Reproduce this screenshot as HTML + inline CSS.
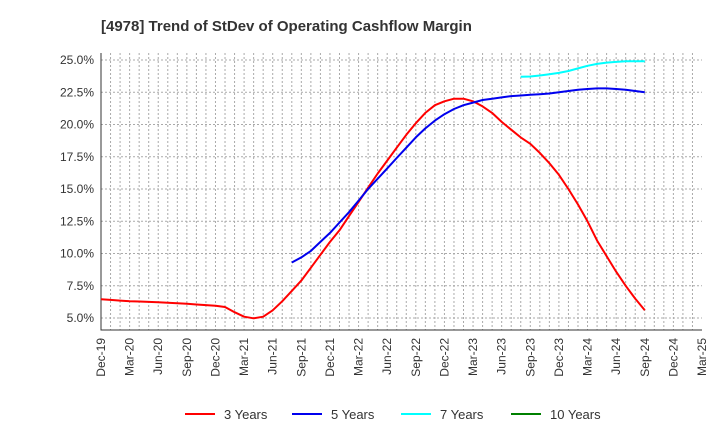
<!DOCTYPE html>
<html><head><meta charset="utf-8"><style>
body{margin:0;background:#fff;font-family:"Liberation Sans",sans-serif}
</style></head><body>
<svg id="c" width="720" height="440" xmlns="http://www.w3.org/2000/svg">
<text x="101" y="31" font-size="15" font-weight="bold" fill="#333">[4978]  Trend of StDev of Operating Cashflow Margin</text>
</svg>
<script>
const xLabels=["Dec-19","Mar-20","Jun-20","Sep-20","Dec-20","Mar-21","Jun-21","Sep-21","Dec-21","Mar-22","Jun-22","Sep-22","Dec-22","Mar-23","Jun-23","Sep-23","Dec-23","Mar-24","Jun-24","Sep-24","Dec-24","Mar-25"];
const yTicks=[5,7.5,10,12.5,15,17.5,20,22.5,25];
const s3Start=0;
const s3=[6.45,6.4,6.35,6.3,6.28,6.25,6.22,6.18,6.15,6.1,6.05,6.0,5.95,5.85,5.45,5.1,4.98,5.1,5.6,6.3,7.1,7.9,8.9,9.9,10.9,11.8,12.9,14.0,15.1,16.2,17.2,18.2,19.2,20.1,20.9,21.5,21.8,22.0,22.0,21.8,21.4,20.9,20.2,19.6,19.0,18.5,17.8,17.0,16.1,15.0,13.8,12.5,11.0,9.8,8.6,7.5,6.5,5.6];
const s5Start=20;
const s5=[9.3,9.7,10.2,10.9,11.6,12.4,13.2,14.1,15.0,15.8,16.6,17.4,18.2,19.0,19.7,20.3,20.8,21.2,21.5,21.7,21.9,22.0,22.1,22.2,22.25,22.3,22.35,22.4,22.5,22.6,22.7,22.75,22.8,22.8,22.75,22.7,22.6,22.5];
const s7Start=44;
const s7=[23.7,23.72,23.8,23.9,24.0,24.15,24.35,24.55,24.7,24.8,24.85,24.9,24.9,24.9];
const s10Start=0;
const s10=[];
const X0=101,X1=702,Y0=53,Y1=330,nMonths=63;
const xs=m=>X0+(X1-X0)*m/nMonths;
const ys=v=>318-(v-5)*(258/20);
const svg=document.getElementById('c');
const NS="http://www.w3.org/2000/svg";
function mk(t,a){const e=document.createElementNS(NS,t);for(const k in a)e.setAttribute(k,a[k]);svg.appendChild(e);return e;}
for(let m=1;m<nMonths;m++){
 const g=mk('line',{x1:xs(m),x2:xs(m),y1:Y0,y2:Y1,stroke:'#aaa','stroke-dasharray':'2,2','stroke-width':1});
 
 
}
yTicks.forEach(v=>{
 const g=mk('line',{x1:X0,x2:X1,y1:ys(v),y2:ys(v),stroke:'#aaa','stroke-dasharray':'2,2','stroke-width':1});
 
 
 const t=mk('text',{x:94,y:ys(v)+4,'text-anchor':'end','font-size':12,fill:'#333'});
 t.textContent=v.toFixed(1)+'%';
 
 
});
xLabels.forEach((l,i)=>{
 const x=xs(i*3);
 const t=mk('text',{transform:`translate(${x+4},338) rotate(-90)`,'text-anchor':'end','font-size':12,fill:'#333'});
 t.textContent=l;
 
 
});
const ax=mk('path',{d:`M${X0},${Y0}V${Y1}H${X1}`,fill:'none',stroke:'#333','stroke-width':1});


function series(arr,start,color,name){
 if(!arr.length)return;
 const d=arr.map((v,i)=>(i?'L':'M')+xs(start+i).toFixed(1)+','+ys(v).toFixed(1)).join('');
 const p=mk('path',{d,fill:'none',stroke:color,'stroke-width':2,'stroke-linejoin':'round'});
 
 
}
series(s3,s3Start,'#ff0000','series-3-years');
series(s5,s5Start,'#0000ee','series-5-years');
series(s7,s7Start,'#00ffff','series-7-years');
series(s10,s10Start,'#008000','series-10-years');
[['3 Years','#ff0000',185],['5 Years','#0000ee',292],['7 Years','#00ffff',401],['10 Years','#008000',511]].forEach(([n,c,x])=>{
 const l=mk('line',{x1:x,x2:x+30,y1:414,y2:414,stroke:c,'stroke-width':2});
 
 
 const t=mk('text',{x:x+39,y:419,'font-size':13,fill:'#333'});
 t.textContent=n;
 
 
});
</script>
</body></html>
